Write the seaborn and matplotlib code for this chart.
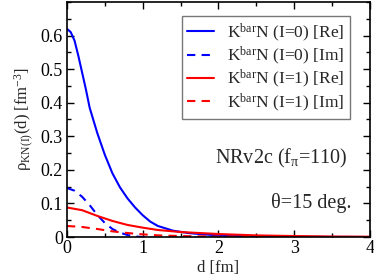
import numpy as np
import pandas as pd
import matplotlib
matplotlib.use("Agg")
import matplotlib.pyplot as plt
import seaborn as sns
from matplotlib.ticker import MultipleLocator

sns.set_style("ticks")
plt.rcParams['font.family'] = ['Liberation Serif', 'DejaVu Serif']
plt.rcParams['mathtext.fontset'] = 'custom'
plt.rcParams['mathtext.rm'] = 'Liberation Serif'
plt.rcParams['mathtext.it'] = 'Liberation Serif:italic'

d_i0re = [0, 0.05, 0.1, 0.15, 0.2, 0.25, 0.3, 0.4, 0.5, 0.6, 0.7, 0.8, 0.9, 1.0, 1.1, 1.2, 1.4, 1.6, 1.8, 2.0, 2.5, 3.0, 3.5, 4.0]
i0re = [0.62, 0.61, 0.585, 0.54, 0.49, 0.44, 0.385, 0.31, 0.245, 0.19, 0.148, 0.115, 0.088, 0.065, 0.046, 0.033, 0.019, 0.012, 0.008, 0.005, 0.002, 0.001, 0.0004, 0.0001]

d_i0im = [0, 0.1, 0.2, 0.3, 0.4, 0.5, 0.6, 0.7, 0.8, 0.9, 1.0, 1.2, 1.5, 2.0, 2.5, 3.0, 4.0]
i0im = [0.146, 0.138, 0.12, 0.095, 0.066, 0.042, 0.024, 0.013, 0.006, 0.002, 0.0, -0.003, -0.002, -0.001, 0.0, 0.0, 0.0]

d_i1re = [0, 0.2, 0.4, 0.6, 0.8, 1.0, 1.2, 1.5, 2.0, 2.5, 3.0, 3.5, 4.0]
i1re = [0.088, 0.08, 0.063, 0.048, 0.036, 0.028, 0.021, 0.015, 0.009, 0.005, 0.003, 0.0015, 0.001]

d_i1im = [0, 0.2, 0.4, 0.6, 0.8, 1.0, 1.2, 1.5, 2.0, 2.5, 3.0, 4.0]
i1im = [0.033, 0.03, 0.024, 0.017, 0.012, 0.008, 0.005, 0.003, 0.001, 0.0005, 0.0002, 0.0]

xticks = [0, 1, 2, 3, 4]
yticks = [0, 0.1, 0.2, 0.3, 0.4, 0.5, 0.6]
ytick_labels = ['0', '0.1', '0.2', '0.3', '0.4', '0.5', '0.6']

labels = [r'K$^{\mathrm{bar}}$N (I=0) [Re]', r'K$^{\mathrm{bar}}$N (I=0) [Im]',
          r'K$^{\mathrm{bar}}$N (I=1) [Re]', r'K$^{\mathrm{bar}}$N (I=1) [Im]']

fig = plt.figure(figsize=(3.74, 2.75), dpi=100)
ax = fig.add_axes([0.179, 0.138, 0.810, 0.855])

DASH = (4, 3)
series = [(d_i0re, i0re, 'blue', '-'), (d_i0im, i0im, 'blue', '--'),
          (d_i1re, i1re, 'red', '-'), (d_i1im, i1im, 'red', '--')]
for (x, y, c, ls), lab in zip(series, labels):
    sns.lineplot(x=x, y=y, ax=ax, color=c, linewidth=1.5, label=lab)
for line, (_, _, _, ls) in zip(ax.get_lines(), series):
    if ls == '--':
        line.set_dashes(DASH)

ax.set_xlim(0, 4)
ax.set_ylim(0, 0.7)
ax.set_xticks(xticks)
ax.set_xticklabels([str(t) for t in xticks])
ax.set_yticks(yticks)
ax.set_yticklabels(ytick_labels)
ax.xaxis.set_minor_locator(MultipleLocator(0.5))
ax.yaxis.set_minor_locator(MultipleLocator(0.05))
ax.tick_params(which='both', direction='in', top=True, right=True, labelsize=13, width=1, colors='black')
ax.tick_params(which='major', length=5)
ax.tick_params(which='minor', length=3)
ax.tick_params(axis='x', pad=2)
ax.tick_params(axis='y', pad=3)
for s in ax.spines.values():
    s.set_linewidth(1.2)
    s.set_visible(True)
    s.set_color('black')

ax.set_xlabel('d [fm]', fontsize=12, labelpad=2)
ax.set_ylabel(r'ρ$_{\mathrm{KN(I)}}$(d) [fm$^{\mathrm{-3}}$]', fontsize=12, labelpad=4)

handles, labs = ax.get_legend_handles_labels()
for h, (_, _, _, ls) in zip(handles, series):
    if ls == '--':
        h.set_dashes(DASH)
leg = ax.legend(handles, labs, loc='upper right', bbox_to_anchor=(0.934, 0.94), fontsize=12.5,
                frameon=True, fancybox=False, edgecolor='#555555', handlelength=1.5,
                borderpad=0.3, labelspacing=0.05, handletextpad=0.8, borderaxespad=0)
leg.get_frame().set_linewidth(1.0)

ax.text(0.927, 0.336, r'NRv2c (f$_{\mathrm{π}}$=110)', transform=ax.transAxes,
        ha='right', va='center', fontsize=14.5)
ax.text(0.94, 0.145, 'θ=15 deg.', transform=ax.transAxes,
        ha='right', va='center', fontsize=14.5)

fig.savefig('out.png', dpi=100)
